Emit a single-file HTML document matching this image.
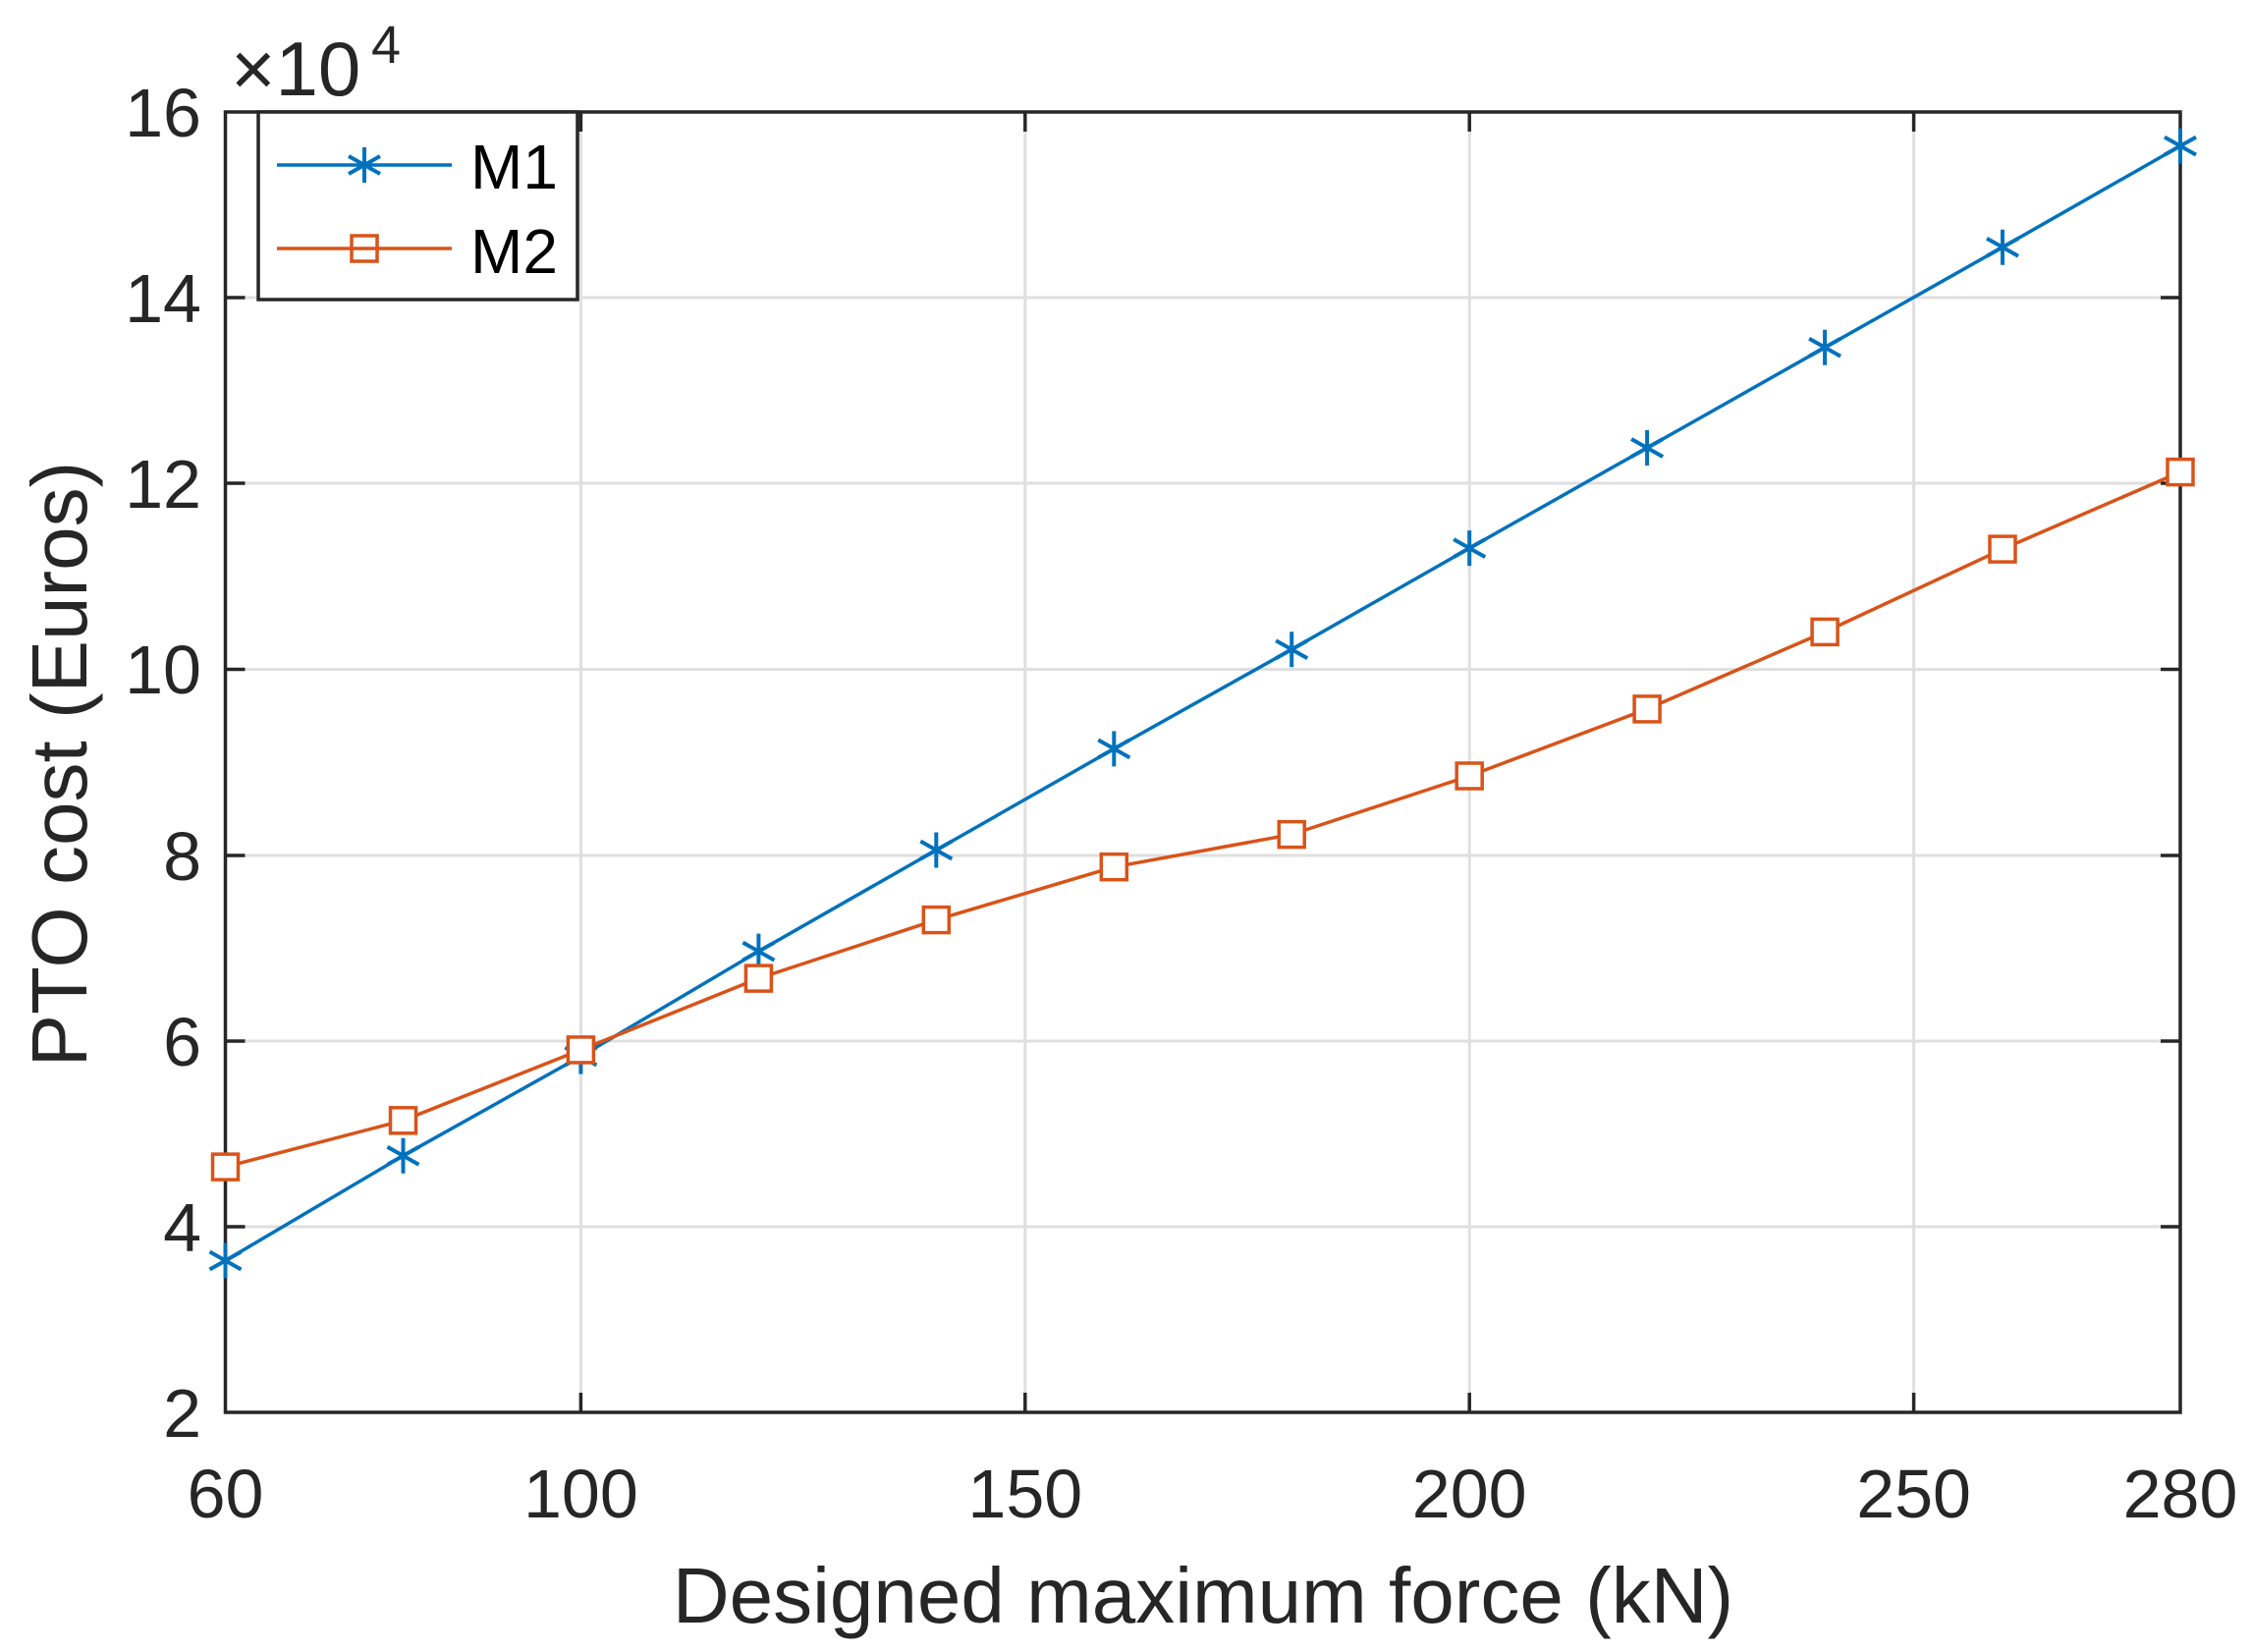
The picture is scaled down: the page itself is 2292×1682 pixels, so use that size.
<!DOCTYPE html>
<html><head><style>body{margin:0;background:#fff}svg{display:block}</style></head><body>
<svg width="2292" height="1682" xmlns="http://www.w3.org/2000/svg" font-family="Liberation Sans, sans-serif" fill="#262626">
<g stroke="#dfdfdf" stroke-width="3">
<line x1="591.4" y1="114" x2="591.4" y2="1438"/><line x1="1043.8" y1="114" x2="1043.8" y2="1438"/><line x1="1496.2" y1="114" x2="1496.2" y2="1438"/><line x1="1948.6" y1="114" x2="1948.6" y2="1438"/>
<line x1="229.5" y1="1249" x2="2220" y2="1249"/><line x1="229.5" y1="1060" x2="2220" y2="1060"/><line x1="229.5" y1="871" x2="2220" y2="871"/><line x1="229.5" y1="681.5" x2="2220" y2="681.5"/><line x1="229.5" y1="492" x2="2220" y2="492"/><line x1="229.5" y1="303" x2="2220" y2="303"/>
</g>
<g stroke="#262626" stroke-width="3.5">
<rect x="229.5" y="114" width="1990.5" height="1324" fill="none"/>
<path d="M591.4 1438v-20M1043.8 1438v-20M1496.2 1438v-20M1948.6 1438v-20M591.4 114v20M1043.8 114v20M1496.2 114v20M1948.6 114v20
M229.5 1249h20M229.5 1060h20M229.5 871h20M229.5 681.5h20M229.5 492h20M229.5 303h20
M2220 1249h-20M2220 1060h-20M2220 871h-20M2220 681.5h-20M2220 492h-20M2220 303h-20"/>
</g>
<g font-size="70" text-anchor="middle">
<text x="229.5" y="1545">60</text><text x="591.4" y="1545">100</text><text x="1043.8" y="1545">150</text><text x="1496.2" y="1545">200</text><text x="1948.6" y="1545">250</text><text x="2220" y="1545">280</text>
</g>
<g font-size="70" text-anchor="end">
<text x="205" y="1463">2</text><text x="205" y="1274">4</text><text x="205" y="1085">6</text><text x="205" y="896">8</text><text x="205" y="706">10</text><text x="205" y="517">12</text><text x="205" y="328">14</text><text x="205" y="139">16</text>
</g>
<text x="235" y="97" font-size="78">×10</text><text x="378" y="64" font-size="54">4</text>
<text x="1225" y="1652" font-size="80" text-anchor="middle">Designed maximum force (kN)</text>
<text transform="translate(88,778) rotate(-90)" font-size="80" text-anchor="middle">PTO cost (Euros)</text>
<polyline fill="none" stroke="#0072bd" stroke-width="3.5" points="229.5,1283.5 410.5,1176.7 591.4,1075.5 772.4,968.6 953.3,865.5 1134.3,762.4 1315.2,661.2 1496.2,558.1 1677.1,456 1858.1,353.8 2039,251.7 2220,148.6"/>
<polyline fill="none" stroke="#d95319" stroke-width="3.5" points="229.5,1188.1 410.5,1140.8 591.4,1068.9 772.4,996.1 953.3,936.6 1134.3,882.7 1315.2,849.6 1496.2,790 1677.1,721.9 1858.1,643.4 2039,559.1 2220,480.6"/>
<g stroke="#0072bd" stroke-width="4">
<path id="s" d="M0 -18V18M-16 -9L16 9M-16 9L16 -9" transform="translate(229.5,1283.5)"/>
<use href="#s" x="181" y="-106.8"/><use href="#s" x="361.9" y="-208"/><use href="#s" x="542.9" y="-314.9"/><use href="#s" x="723.8" y="-418"/><use href="#s" x="904.8" y="-521.1"/><use href="#s" x="1085.7" y="-622.3"/><use href="#s" x="1266.7" y="-725.4"/><use href="#s" x="1447.6" y="-827.5"/><use href="#s" x="1628.6" y="-929.7"/><use href="#s" x="1809.5" y="-1031.8"/><use href="#s" x="1990.5" y="-1134.9"/>
</g>
<g stroke="#d95319" stroke-width="3.5" fill="#fff">
<rect id="q" x="216.5" y="1175.1" width="26" height="26"/>
<use href="#q" x="181" y="-47.3"/><use href="#q" x="361.9" y="-119.2"/><use href="#q" x="542.9" y="-192"/><use href="#q" x="723.8" y="-251.5"/><use href="#q" x="904.8" y="-305.4"/><use href="#q" x="1085.7" y="-338.5"/><use href="#q" x="1266.7" y="-398.1"/><use href="#q" x="1447.6" y="-466.2"/><use href="#q" x="1628.6" y="-544.7"/><use href="#q" x="1809.5" y="-629"/><use href="#q" x="1990.5" y="-707.5"/>
</g>
<rect x="263" y="114" width="325" height="191" fill="#fff" stroke="#262626" stroke-width="3.5"/>
<line x1="282" y1="168" x2="460" y2="168" stroke="#0072bd" stroke-width="3.5"/>
<path d="M371 150V186M355 159L387 177M355 177L387 159" stroke="#0072bd" stroke-width="4"/>
<line x1="282" y1="253" x2="460" y2="253" stroke="#d95319" stroke-width="3.5"/>
<rect x="358" y="240" width="26" height="26" fill="none" stroke="#d95319" stroke-width="3.5"/>
<text x="479" y="192" font-size="64" fill="#000">M1</text>
<text x="479" y="278" font-size="64" fill="#000">M2</text>
</svg>
</body></html>
